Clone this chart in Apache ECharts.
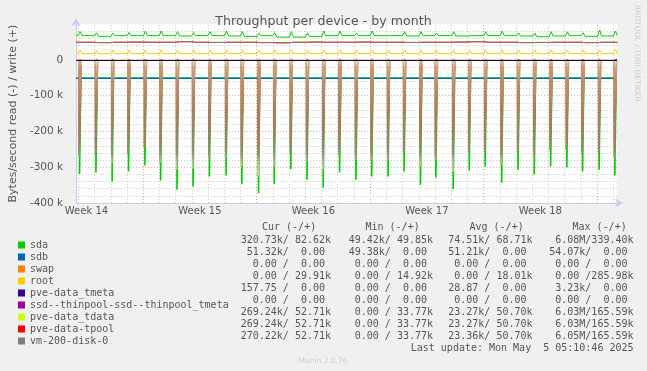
<!DOCTYPE html>
<html><head><meta charset="utf-8">
<script src="https://cdn.jsdelivr.net/npm/echarts@6/dist/echarts.min.js"></script>
<style>html,body{margin:0;padding:0;background:#f0f0f0}#c{width:647px;height:371px}</style>
</head><body><div id="c"></div>
<script>
// x values: days since Mon 31 Mar 2025 00:00
const xStart = 2.864, xEnd = 36.23;
const weekMid = [3.5, 10.5, 17.5, 24.5, 31.5];
const weekLabels = ['Week 14', 'Week 15', 'Week 16', 'Week 17', 'Week 18'];
const weekBounds = [7, 14, 21, 28, 35];
const yMin = -400, yMax = 100, yStep = 100; // in k

const devices = ['sda', 'sdb', 'swap', 'root', 'pve-data_tmeta', 'ssd--thinpool-ssd--thinpool_tmeta', 'pve-data_tdata', 'pve-data-tpool', 'vm-200-disk-0'];
const colors = ['#00cc00', '#0066b3', '#ff8000', '#ffcc00', '#330099', '#990099', '#ccff00', '#ff0000', '#808080'];

// daily activity burst times (days)
const spikeTimes = [3.11, 4.12, 5.12, 6.13, 7.14, 8.11, 9.12, 10.11, 11.12, 12.15, 13.12, 14.15, 15.12, 16.14, 17.14, 18.14, 19.15,
  20.16, 21.13, 22.14, 23.13, 24.14, 25.09, 26.16, 27.15, 28.13, 29.15, 30.16, 31.16, 32.17, 33.17, 34.14, 35.16, 36.13];
// read (k) at the bursts
const pveReadDepth = [266, 265, 289, 261, 245, 287, 307, 304, 275, 275, 298, 326, 298, 261, 284, 306, 265,
  280, 278, 278, 261, 298, 280, 312, 259, 252, 293, 259, 270, 252, 252, 261, 259, 275];
const sdaReadDepth = [319, 315, 340, 312, 295, 337, 363, 354, 326, 323, 347, 373, 347, 305, 335, 357, 315,
  335, 326, 326, 312, 349, 329, 361, 309, 298, 343, 307, 320, 298, 301, 312, 307, 323];
const sdaReadBase = 50.5;
const sdbReadLevel = 51.3;
// write (k): level between bursts and peak at bursts
const sdaWriteBase = [68, 68, 66, 68, 68, 68, 68, 67, 68, 68, 67, 66, 68, 64, 64, 66, 68, 68, 68, 68, 68, 67, 68, 68, 67, 68, 68, 68, 67, 65, 67, 68, 66, 67, 68];
const sdaWritePeak = [79, 76, 75, 77, 81, 81, 79, 77, 79, 81, 79, 75, 76, 79, 76, 81, 81, 75, 81, 72, 79, 79, 75, 79, 70, 79, 81, 76, 75, 79, 79, 76, 84, 81];
const rootWriteBase = [17.5, 17.5, 17.5, 17.8, 17.5, 17.5, 17.7, 17.5, 17.5, 17.5, 17.8, 17.5, 17.5, 17.5, 17.6, 17.5, 17.5, 17.5, 17.8, 17.5, 17.5, 17.5, 17.6, 17.5, 17.5, 17.5, 17.7, 17.5, 17.5, 17.5, 17.6, 17.5, 17.5, 17.5, 18.5];
const rootWritePeak = [28, 27, 28, 27, 28, 29, 27, 28, 27, 28, 28, 27, 28, 28, 27, 28, 28, 28, 27, 28, 28, 27, 28, 28, 27, 28, 29, 28, 27, 28, 27, 28, 28, 30];
const pveWriteBase = [49.5, 49.5, 48.5, 49.5, 50, 49.5, 49.5, 51, 49.5, 49, 49.5, 49.5, 48.5, 48, 49.5, 50, 49.5, 49.5, 50, 49.5, 49.5, 49, 49.5, 49.5, 50, 51, 49.5, 49.5, 48.5, 49, 49.5, 49.5, 48.5, 49.5, 49.5];
const pveWritePeak = [52, 51, 52, 51, 52, 53, 54, 52, 51, 52, 52, 51, 52, 51, 52, 52, 53, 52, 51, 52, 53, 54, 52, 51, 52, 53, 54, 52, 51, 52, 51, 52, 52, 51];

// legend statistics
const statHeaders = ['Cur (-/+)', 'Min (-/+)', 'Avg (-/+)', 'Max (-/+)'];
const curVals = ['320.73k/ 82.62k', '51.32k/  0.00 ', '  0.00 /  0.00 ', '  0.00 / 29.91k', '157.75 /  0.00 ', '  0.00 /  0.00 ', '269.24k/ 52.71k', '269.24k/ 52.71k', '270.22k/ 52.71k'];
const minVals = ['49.42k/ 49.85k', '49.38k/  0.00 ', '  0.00 /  0.00 ', '  0.00 / 14.92k', '  0.00 /  0.00 ', '  0.00 /  0.00 ', '  0.00 / 33.77k', '  0.00 / 33.77k', '  0.00 / 33.77k'];
const avgVals = ['74.51k/ 68.71k', '51.21k/  0.00 ', '  0.00 /  0.00 ', '  0.00 / 18.01k', ' 28.87 /  0.00 ', '  0.00 /  0.00 ', '23.27k/ 50.70k', '23.27k/ 50.70k', '23.36k/ 50.70k'];
const maxVals = [' 6.08M/339.40k', '54.07k/  0.00 ', '  0.00 /  0.00 ', '  0.00 /285.98k', ' 3.23k/  0.00 ', '  0.00 /  0.00 ', ' 6.03M/165.59k', ' 6.03M/165.59k', ' 6.05M/165.59k'];
const lastUpdate = 'Last update: Mon May  5 05:10:46 2025';

function readSpikes(base, depths, hw) {
  const pts = [[xStart, -base]];
  spikeTimes.forEach((t, i) => {
    pts.push([t - hw - 0.01, -base], [t - hw, -depths[i]], [t + hw, -depths[i]], [t + hw + 0.01, -base]);
  });
  pts.push([xEnd, -base]);
  return pts;
}
function writePeaks(base, peaks) {
  const pts = [[xStart, base[0]]];
  spikeTimes.forEach((t, i) => {
    pts.push([t - 0.12, base[i]], [t, peaks[i]], [t + 0.12, base[i + 1]]);
  });
  pts.push([xEnd, base[base.length - 1]]);
  return pts;
}
const flat = v => [[xStart, v], [xEnd, v]];

const MONO = '"DejaVu Sans Mono", monospace';
const SANS = '"DejaVu Sans", sans-serif';
const TXT = '#555555';

function line(name, color, data, extra) {
  return Object.assign({
    name, type: 'line', data, showSymbol: false, symbol: 'none', animation: false, silent: true, z: 3,
    itemStyle: { color }, lineStyle: { color, width: 1 }
  }, extra || {});
}

const pveGrad = new echarts.graphic.LinearGradient(0, 0, 0, 1, [
  { offset: 0, color: '#e8d8cc' }, { offset: 0.08, color: '#c09a80' }, { offset: 0.45, color: '#a67e62' },
  { offset: 0.65, color: '#968270' }, { offset: 0.78, color: '#8e8c84' }, { offset: 0.86, color: '#b4c49c' }, { offset: 1, color: '#c8e4a0' }
]);

// grid lines
const hMajor = [], hMinor = [], vMajor = [], vMinor = [];
for (let v = yMin + 20; v < yMax; v += 20) { (v % 100 === 0 ? hMajor : hMinor).push(v); }
for (let d = Math.ceil(xStart); d <= Math.floor(xEnd); d++) { (weekBounds.includes(d) ? vMajor : vMinor).push(d); }
const ml = (arr, key) => arr.map(v => ({ [key]: v }));
const minorStyle = { color: '#cccccc', type: [1, 2], width: 1 };
const majorStyle = { color: '#eaa4a4', type: [1, 2], width: 1 };

const series = [
  { name: '_grid', type: 'line', data: [[xStart, yMin]], symbol: 'none', lineStyle: { opacity: 0 }, silent: true, animation: false, z: 1,
    markLine: { silent: true, symbol: ['none', 'none'], animation: false, z: 1, label: { show: false },
      data: [
        ...ml(hMinor, 'yAxis').map(o => Object.assign(o, { lineStyle: minorStyle })),
        ...ml(vMinor, 'xAxis').map(o => Object.assign(o, { lineStyle: minorStyle })),
        ...ml(hMajor, 'yAxis').map(o => Object.assign(o, { lineStyle: majorStyle })),
        ...ml(vMajor, 'xAxis').map(o => Object.assign(o, { lineStyle: majorStyle }))
      ] } },
  line('sda', colors[0], readSpikes(sdaReadBase, sdaReadDepth, 0.035), { lineStyle: { color: colors[0], width: 1.6 } }),
  line('sda', colors[0], writePeaks(sdaWriteBase, sdaWritePeak)),
  line('sdb', colors[1], flat(-sdbReadLevel), { lineStyle: { color: colors[1], width: 1.2 } }),
  line('swap', colors[2], flat(0)),
  line('root', colors[3], writePeaks(rootWriteBase, rootWritePeak)),
  line('pve-data_tmeta', colors[4], flat(0)),
  line('ssd--thinpool-ssd--thinpool_tmeta', colors[5], flat(0)),
  line('pve-data_tdata', colors[6], readSpikes(0, pveReadDepth, 0.06), { lineStyle: { color: colors[6], width: 1.2 } }),
  line('pve-data_tdata', colors[6], writePeaks(pveWriteBase, pveWritePeak)),
  line('pve-data-tpool', colors[7], readSpikes(0, pveReadDepth, 0.06), { lineStyle: { color: colors[7], width: 1.2 } }),
  line('pve-data-tpool', colors[7], writePeaks(pveWriteBase, pveWritePeak)),
  line('vm-200-disk-0', colors[8], readSpikes(0, pveReadDepth, 0.06), { lineStyle: { color: pveGrad, width: 1.7 } }),
  line('vm-200-disk-0', colors[8], writePeaks(pveWriteBase, pveWritePeak), { lineStyle: { color: '#867d76', width: 1 },
    markLine: { silent: true, symbol: ['none', 'none'], animation: false, z: 10, label: { show: false },
      lineStyle: { color: '#111', type: 'solid', width: 1 }, data: [{ yAxis: 0 }] } })
];

const graphics = [];
const colEnds = [331, 433, 532.5, 633.5];
const colHeadX = [262, 365.5, 469.5, 572.5];
statHeaders.forEach((h, j) => graphics.push({ type: 'text', silent: true,
  style: { text: h, x: colHeadX[j], y: 227, textAlign: 'left', align: 'left', textVerticalAlign: 'middle', verticalAlign: 'middle', font: '10px ' + MONO, fill: TXT } }));
[curVals, minVals, avgVals, maxVals].forEach((col, j) => col.forEach((s, i) => graphics.push({ type: 'text', silent: true,
  style: { text: s, x: colEnds[j], y: 240 + 12 * i, textAlign: 'right', align: 'right', textVerticalAlign: 'middle', verticalAlign: 'middle', font: '10px ' + MONO, fill: TXT } })));
graphics.push({ type: 'text', silent: true, style: { text: lastUpdate, x: 633.5, y: 348, textAlign: 'right', align: 'right', textVerticalAlign: 'middle', verticalAlign: 'middle', font: '10px ' + MONO, fill: TXT } });
graphics.push({ type: 'text', silent: true, style: { text: 'Munin 2.0.76', x: 323, y: 361, textAlign: 'center', align: 'center', textVerticalAlign: 'middle', verticalAlign: 'middle', font: '7.5px ' + SANS, fill: '#cccccc' } });
graphics.push({ type: 'text', silent: true, x: 637, y: 5, rotation: -Math.PI / 2,
  style: { text: 'RRDTOOL / TOBI OETIKER', x: 0, y: 0, textAlign: 'left', align: 'left', textVerticalAlign: 'middle', verticalAlign: 'middle', font: '7.5px ' + SANS, fill: '#cccccc' } });

const chart = echarts.init(document.getElementById('c'), null, { renderer: 'canvas' });
chart.setOption({
  backgroundColor: '#f0f0f0',
  animation: false,
  title: { text: 'Throughput per device - by month', left: 'center', top: 10,
    textStyle: { fontFamily: SANS, fontSize: 12.6, fontWeight: 'normal', color: TXT } },
  grid: { left: 66, right: 30, top: 24.2, bottom: 168, show: true, backgroundColor: '#ffffff', borderWidth: 0, containLabel: false },
  legend: { orient: 'vertical', left: 13, top: 234, itemWidth: 7, itemHeight: 7, itemGap: 0, icon: 'rect', selectedMode: false,
    textStyle: { fontFamily: MONO, fontSize: 10, color: TXT, lineHeight: 12, height: 12 },
    data: devices.map((d, i) => ({ name: d, icon: 'rect', itemStyle: { color: colors[i] } })) },
  xAxis: { type: 'value', min: xStart, max: xEnd,
    axisLine: { show: true, onZero: false, lineStyle: { color: '#c8ccf4', width: 1 }, symbol: ['none', 'arrow'], symbolSize: [7, 8], symbolOffset: [0, 6] },
    axisTick: { show: false }, splitLine: { show: false },
    axisLabel: { customValues: weekMid, margin: 3, color: TXT, fontFamily: SANS, fontSize: 10,
      formatter: v => { const i = weekMid.findIndex(m => Math.abs(m - v) < 1e-6); return i >= 0 ? weekLabels[i] : ''; } } },
  yAxis: { type: 'value', min: yMin, max: yMax, interval: yStep,
    name: 'Bytes/second read (-) / write (+)', nameLocation: 'middle', nameGap: 55,
    nameTextStyle: { fontFamily: SANS, fontSize: 11, color: TXT },
    axisLine: { show: true, lineStyle: { color: '#c8ccf4', width: 1 }, symbol: ['none', 'arrow'], symbolSize: [7, 8], symbolOffset: [0, 6] },
    axisTick: { show: false }, splitLine: { show: false },
    axisLabel: { margin: 13, color: TXT, fontFamily: SANS, fontSize: 10.5, showMaxLabel: false,
      formatter: v => v === 0 ? '0' : v + ' k' } },
  series,
  graphic: graphics
});
</script></body></html>
